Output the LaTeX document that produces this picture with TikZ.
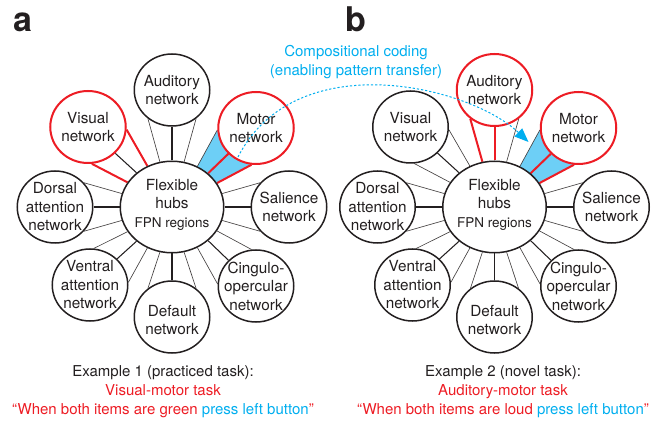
\documentclass[tikz,border=0pt]{standalone}
\usepackage{fontspec}
\setmainfont{TeX Gyre Heros}
\usetikzlibrary{calc,arrows.meta,shapes.geometric}
\definecolor{nred}{RGB}{237,28,36}
\definecolor{ncyan}{RGB}{0,174,239}
\definecolor{nfill}{RGB}{109,207,246}
\definecolor{ntext}{RGB}{35,31,32}
\pgfdeclarelayer{bg}
\pgfsetlayers{bg,main}
\tikzset{
  net/.style={ellipse, draw=ntext, line width=1.5pt, fill=white, minimum width=75.5pt, minimum height=72pt, inner sep=0pt},
  rednet/.style={net, draw=nred, line width=2pt},
  hubnode/.style={ellipse, draw=ntext, line width=1.5pt, fill=white, minimum width=103.5pt, minimum height=91.5pt, inner sep=0pt},
  nettext/.style={align=center, text=ntext, inner sep=0pt, font=\fontsize{15.3}{18.5}\selectfont},
  midline/.style={draw=ntext, line width=1.05pt},
  sideline/.style={draw=ntext!85, line width=0.65pt},
  redline/.style={draw=nred, line width=2pt},
  caption/.style={align=center, inner sep=0pt, font=\fontsize{15}{19}\selectfont},
  panellabel/.style={anchor=base, text=ntext, inner sep=0pt, font=\fontsize{34}{34}\bfseries\selectfont},
}
\begin{document}
\begin{tikzpicture}[x=1pt,y=1pt]
\useasboundingbox (0,0) rectangle (663,423);
% ---------- panel a ----------
\node[hubnode, label={[nettext,yshift=2.5pt]center:{Flexible\\hubs\\{\fontsize{13.5}{16}\selectfont FPN regions}}}] (A-hub) at (172,216) {};
\node[net, label={[nettext]center:{Auditory\\network}}] (A-aud) at (172,333) {};
\node[rednet, label={[nettext]center:{Motor\\network}}] (A-mot) at (256,295) {};
\node[net, label={[nettext]center:{Salience\\network}}] (A-sal) at (289,216) {};
\node[net, label={[nettext]center:{Cingulo-\\opercular\\network}}] (A-cin) at (256,137) {};
\node[net, label={[nettext,yshift=-3pt]center:{Default\\network}}] (A-def) at (172,106) {};
\node[net, label={[nettext]center:{Ventral\\attention\\network}}] (A-ven) at (90,138) {};
\node[net, label={[nettext]center:{Dorsal\\attention\\network}}] (A-dor) at (55,216) {};
\node[rednet, label={[nettext]center:{Visual\\network}}] (A-vis) at (88,296) {};
% ---------- panel b ----------
\node[hubnode, label={[nettext,yshift=2.5pt]center:{Flexible\\hubs\\{\fontsize{13.5}{16}\selectfont FPN regions}}}] (B-hub) at (494.5,216) {};
\node[rednet, label={[nettext]center:{Auditory\\network}}] (B-aud) at (494.5,333) {};
\node[rednet, label={[nettext]center:{Motor\\network}}] (B-mot) at (578.5,295) {};
\node[net, label={[nettext]center:{Salience\\network}}] (B-sal) at (611.5,216) {};
\node[net, label={[nettext]center:{Cingulo-\\opercular\\network}}] (B-cin) at (578.5,137) {};
\node[net, label={[nettext,yshift=-3pt]center:{Default\\network}}] (B-def) at (494.5,106) {};
\node[net, label={[nettext]center:{Ventral\\attention\\network}}] (B-ven) at (412.5,138) {};
\node[net, label={[nettext]center:{Dorsal\\attention\\network}}] (B-dor) at (377.5,216) {};
\node[net, label={[nettext]center:{Visual\\network}}] (B-vis) at (410.5,296) {};
% ---------- connectors ----------
\begin{pgfonlayer}{bg}
\fill[nfill] (A-hub.58) -- (A-mot.183) -- (A-mot.263) -- (A-hub.28) -- cycle;
\fill[nfill] (B-hub.58) -- (B-mot.183) -- (B-mot.263) -- (B-hub.28) -- cycle;
\foreach \p/\n/\t/\sa/\sm/\sb in {
  A/aud/90/sideline/midline/sideline,
  A/mot/43/sideline/redline/redline,
  A/sal/0/sideline/midline/sideline,
  A/cin/-43/sideline/midline/sideline,
  A/def/-90/sideline/midline/sideline,
  A/ven/-136/sideline/midline/sideline,
  A/dor/180/sideline/midline/sideline,
  A/vis/136/redline/midline/redline,
  B/aud/90/redline/redline/sideline,
  B/mot/43/sideline/redline/redline,
  B/sal/0/sideline/midline/sideline,
  B/cin/-43/sideline/midline/sideline,
  B/def/-90/sideline/midline/sideline,
  B/ven/-136/sideline/midline/sideline,
  B/dor/180/sideline/midline/sideline,
  B/vis/136/sideline/midline/sideline}{
  \pgfmathtruncatemacro\ta{mod(\t+15+720,360)}
  \pgfmathtruncatemacro\tb{mod(\t-15+720,360)}
  \pgfmathtruncatemacro\tc{mod(\t+720,360)}
  \pgfmathtruncatemacro\oa{mod(\t+140+720,360)}
  \pgfmathtruncatemacro\ob{mod(\t+220+720,360)}
  \pgfmathtruncatemacro\oc{mod(\t+180+720,360)}
  \draw[\sa] (\p-hub.\ta) -- (\p-\n.\oa);
  \draw[\sb] (\p-hub.\tb) -- (\p-\n.\ob);
  \draw[\sm] (\p-hub.\tc) -- (\p-\n.\oc);
}
\end{pgfonlayer}
% ---------- compositional coding arrow ----------
\coordinate (arrS) at ($(A-mot.center)+(-18,-29)$);
\coordinate (arrE) at ($(B-mot.center)+(-50,-14)$);
\draw[ncyan, line width=1pt, dash pattern=on 2.2pt off 2pt, -{Triangle[length=14pt,width=11pt]}] (arrS) .. controls (295,378) and (468,338) .. (arrE);
\node[caption, text=ncyan] (comp) at (356,360.5) {Compositional coding\\(enabling pattern transfer)};
% ---------- labels and captions ----------
\node[panellabel] (labA) at (22.5,391) {a};
\node[panellabel] (labB) at (355.5,391) {b};
\node[caption, text=ntext] (capA) at (163,31) {Example 1 (practiced task):\\\textcolor{nred}{Visual-motor task}\\\textcolor{nred}{“When both items are green} \textcolor{ncyan}{press left button}\textcolor{nred}{”}};
\node[caption, text=ntext] (capB) at (503,31) {Example 2 (novel task):\\\textcolor{nred}{Auditory-motor task}\\\textcolor{nred}{“When both items are loud} \textcolor{ncyan}{press left button}\textcolor{nred}{”}};
\end{tikzpicture}
\end{document}
